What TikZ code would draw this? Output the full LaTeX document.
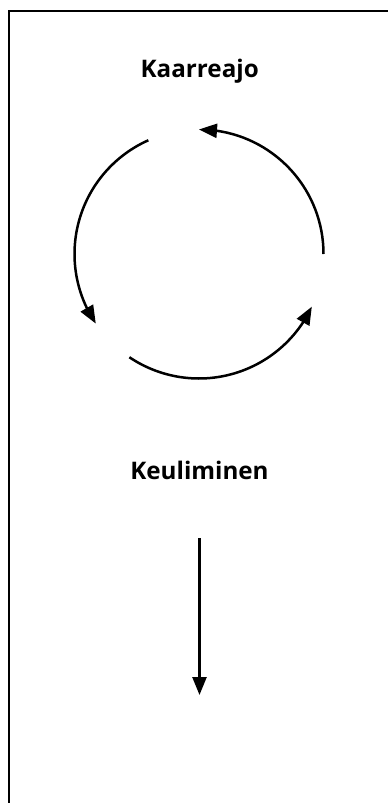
\documentclass[tikz,border=0pt]{standalone}
\usepackage{fontspec}
\setmainfont{Open Sans}
\usetikzlibrary{arrows.meta,bending,calc}
\begin{document}
\begin{tikzpicture}[x=1pt,y=-1pt,
  frame/.style={line width=2pt,black},
  loop/.style={line width=2.5pt,-{Triangle[length=18pt,width=14pt]}},
  label/.style={font=\fontsize{24.2}{26}\selectfont\bfseries,inner sep=0pt,anchor=base}]
\useasboundingbox (0,0) rectangle (388,803);
\fill[white] (0,0) rectangle (388,803);
% frame (open at right and bottom)
\coordinate (fc) at (8.5,11);
\draw[frame] (8.5,803) -- (fc) -- (388,11);
% labels
\node[label] (kaarre) at (199.7,77.7) {Kaarreajo};
\node[label] (keuli) at (199.5,479.3) {Keuliminen};
% cycle
\coordinate (c) at (199,254);
\draw[loop] ($(c)+(114:124.5pt)$) arc[start angle=114,end angle=214,radius=124.5pt];
\draw[loop] ($(c)+(236:124.5pt)$) arc[start angle=236,end angle=335,radius=124.5pt];
\draw[loop] ($(c)+(0:124.5pt)$) arc[start angle=0,end angle=90,radius=124.5pt];
% straight arrow
\coordinate (a1) at (199.5,538);
\coordinate (a2) at (199.5,695);
\draw[loop] (a1) -- (a2);
\end{tikzpicture}
\end{document}
